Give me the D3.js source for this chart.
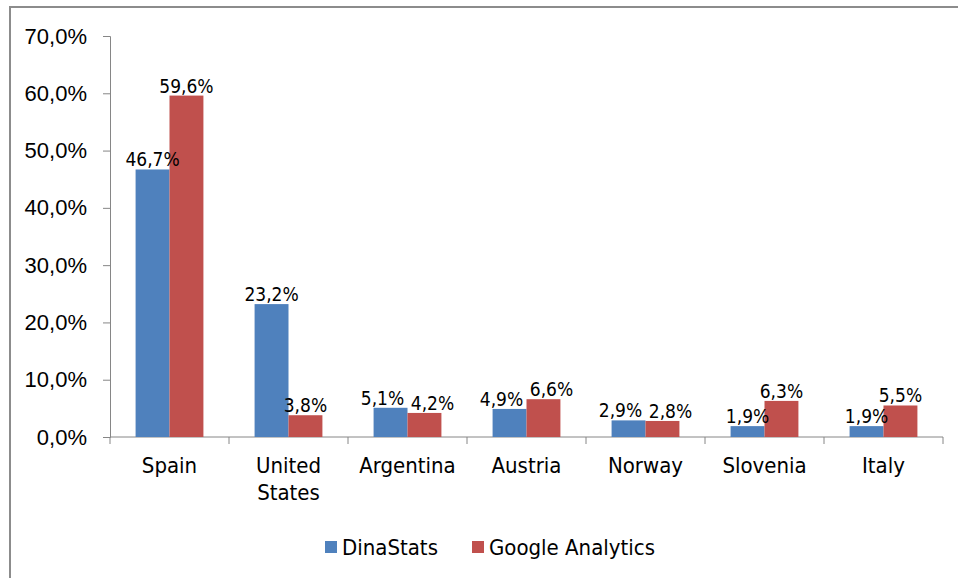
<!DOCTYPE html>
<html>
<head>
<meta charset="utf-8">
<script src="https://cdn.jsdelivr.net/npm/d3@7"></script>
<style>
    html, body { margin: 0; padding: 0; background: #fff; }
    svg { display: block; font-family: "DejaVu Sans Condensed", "DejaVu Sans", sans-serif; }
</style>
</head>
<body>
<div id="chart"></div>
<script>
// 国家（类别）
let countries = ["Spain", "United States", "Argentina", "Austria", "Norway", "Slovenia", "Italy"];
// 两个数据来源
let seriesNames = ["DinaStats", "Google Analytics"];
let dinaStats = [46.7, 23.2, 5.1, 4.9, 2.9, 1.9, 1.9];
let googleAnalytics = [59.6, 3.8, 4.2, 6.6, 2.8, 6.3, 5.5];
let yTicks = [0, 10, 20, 30, 40, 50, 60, 70];

let colors = ["#4f81bd", "#c0504d"];

let width = 958, height = 578;
let margin = {left: 110, right: 15, top: 36, bottom: 141};

// 逗号作小数点
let fmt = function (v) {
    return v.toFixed(1).replace(".", ",") + "%";
};

let svg = d3.select("#chart").append("svg")
    .attr("width", width)
    .attr("height", height);

// 外框（只有左边和上边可见）
svg.append("path")
    .attr("d", "M10,578V7H958")
    .attr("fill", "none")
    .attr("stroke", "#8c8c8c")
    .attr("stroke-width", 2);

let x0 = d3.scaleBand()
    .domain(countries)
    .range([margin.left, width - margin.right]);

let gap = x0.bandwidth() * 0.215;
let x1 = d3.scaleBand()
    .domain(seriesNames)
    .range([gap, x0.bandwidth() - gap]);

let y = d3.scaleLinear()
    .domain([0, 70])
    .range([height - margin.bottom, margin.top]);

// y轴
let yAxis = svg.append("g")
    .attr("transform", "translate(" + margin.left + ",0)")
    .call(d3.axisLeft(y).tickValues(yTicks).tickFormat(fmt).tickSizeOuter(0).tickSize(7).tickPadding(16));
yAxis.select(".domain").attr("stroke", "#868686");
yAxis.selectAll(".tick line").attr("stroke", "#868686");
yAxis.selectAll("text").attr("font-size", 22).attr("fill", "#000").attr("font-family", null);

// x轴，刻度在类别之间
let xAxis = svg.append("g")
    .attr("transform", "translate(0," + y(0) + ")");
xAxis.append("line")
    .attr("x1", margin.left).attr("x2", width - margin.right)
    .attr("stroke", "#868686");
let bounds = countries.map(c => x0(c)).concat([x0(countries[countries.length - 1]) + x0.bandwidth()]);
xAxis.selectAll(".xtick")
    .data(bounds)
    .enter().append("line")
    .attr("x1", d => d).attr("x2", d => d)
    .attr("y1", 0).attr("y2", 7)
    .attr("stroke", "#868686");

let catLabels = xAxis.selectAll(".cat")
    .data(countries)
    .enter().append("text")
    .attr("x", d => x0(d) + x0.bandwidth() / 2)
    .attr("y", 36)
    .attr("text-anchor", "middle")
    .attr("font-size", 22)
    .attr("fill", "#000");
catLabels.each(function (d) {
    let words = d.split(" ");
    let t = d3.select(this);
    words.forEach(function (w, i) {
        t.append("tspan")
            .attr("x", x0(d) + x0.bandwidth() / 2)
            .attr("dy", i === 0 ? 0 : 27)
            .text(w);
    });
});

// 柱子
let series = [dinaStats, googleAnalytics];
let groups = svg.selectAll(".country")
    .data(countries)
    .enter().append("g")
    .attr("transform", d => "translate(" + x0(d) + ",0)");

groups.selectAll("rect")
    .data((c, i) => seriesNames.map((s, k) => ({s: s, k: k, v: series[k][i]})))
    .enter().append("rect")
    .attr("x", d => x1(d.s))
    .attr("y", d => y(d.v))
    .attr("width", x1.bandwidth())
    .attr("height", d => y(0) - y(d.v))
    .attr("fill", d => colors[d.k]);

// 数据标签：高度接近时左右推开
let labelW = 46;
groups.each(function (c, i) {
    let g = d3.select(this);
    let vals = [dinaStats[i], googleAnalytics[i]];
    let cx = seriesNames.map(s => x1(s) + x1.bandwidth() / 2);
    let push = 0;
    if (Math.abs(y(vals[0]) - y(vals[1])) < 20) {
        push = Math.max(0, (labelW - (cx[1] - cx[0])) / 2 + 2);
    }
    vals.forEach(function (v, k) {
        g.append("text")
            .attr("x", cx[k] + (k === 0 ? -push : push))
            .attr("y", y(v) - 3)
            .attr("text-anchor", "middle")
            .attr("font-size", 19)
            .attr("fill", "#000")
            .text(fmt(v));
    });
});

// 图例
let legend = svg.append("g").attr("transform", "translate(325,547)");
let legendX = [0, 147];
seriesNames.forEach(function (s, k) {
    let item = legend.append("g").attr("transform", "translate(" + legendX[k] + ",0)");
    item.append("rect")
        .attr("x", 0).attr("y", -6)
        .attr("width", 12).attr("height", 12)
        .attr("fill", colors[k]);
    item.append("text")
        .attr("x", 17).attr("y", 8)
        .attr("font-size", 22)
        .attr("fill", "#000")
        .text(s);
});
</script>
</body>
</html>
